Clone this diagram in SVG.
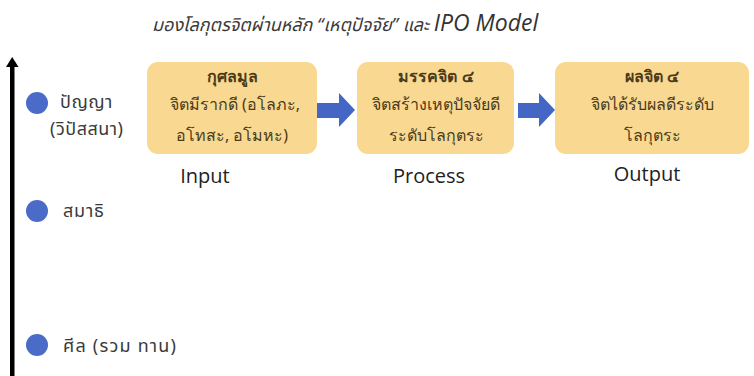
<svg xmlns="http://www.w3.org/2000/svg" width="754" height="376" viewBox="0 0 754 376">
  <defs>
    <style>
      .th { font-family: "Noto Sans", "Noto Sans Thai", "DejaVu Sans", sans-serif; fill: #3a3a3a; }
      .box { fill: #f9d891; }
      .boxt { font-family: "Noto Sans", "DejaVu Sans", sans-serif; font-size: 16px; fill: #4a3b1a; text-anchor: middle; }
      .lab { font-family: "Open Sans", "Noto Sans", "Liberation Sans", sans-serif; font-size: 20px; fill: #222; text-anchor: middle; }
      .dot { fill: #4a6bc8; }
      .arr { fill: #4466c4; }
    </style>
  </defs>
  <rect width="754" height="376" fill="#ffffff"/>

  <g id="title">
    <text x="152" y="31" class="th" font-style="italic" font-size="18">มองโลกุตรจิตผ่านหลัก “เหตุปัจจัย” และ <tspan font-family="Open Sans, Liberation Sans, sans-serif" font-size="23" fill="#333">IPO Model</tspan></text>
  </g>

  <g id="axis">
    <rect x="10" y="64" width="4.5" height="312" fill="#000"/>
    <polygon points="12.2,57 6,67 18.5,67" fill="#000"/>
  </g>

  <g id="level-panya">
    <circle cx="37" cy="103" r="11" class="dot"/>
    <text x="60" y="108" class="th" font-size="18" letter-spacing="0.5">ปัญญา</text>
    <text x="50" y="135" class="th" font-size="18" letter-spacing="0.5">(วิปัสสนา)</text>
  </g>
  <g id="level-samadhi">
    <circle cx="37" cy="211" r="11" class="dot"/>
    <text x="63" y="217" class="th" font-size="18" letter-spacing="0.8">สมาธิ</text>
  </g>
  <g id="level-sila">
    <circle cx="37" cy="345" r="11" class="dot"/>
    <text x="63" y="352" class="th" font-size="18" letter-spacing="1.2">ศีล (รวม ทาน)</text>
  </g>

  <g id="node-input">
    <rect x="147" y="62" width="170" height="92" rx="11" class="box"/>
    <text x="232" y="82" class="boxt" font-weight="bold">กุศลมูล</text>
    <text x="235" y="110" class="boxt">จิตมีรากดี (อโลภะ,</text>
    <text x="232" y="141" class="boxt">อโทสะ, อโมหะ)</text>
    <text x="205" y="183" class="lab">Input</text>
  </g>

  <g id="node-process">
    <rect x="357" y="62" width="157" height="92" rx="11" class="box"/>
    <text x="436" y="82" class="boxt" font-weight="bold">มรรคจิต ๔</text>
    <text x="436" y="110" class="boxt">จิตสร้างเหตุปัจจัยดี</text>
    <text x="436" y="141" class="boxt">ระดับโลกุตระ</text>
    <text x="429" y="183" class="lab">Process</text>
  </g>

  <g id="node-output">
    <rect x="555" y="62" width="194" height="92" rx="11" class="box"/>
    <text x="652" y="82" class="boxt" font-weight="bold">ผลจิต ๔</text>
    <text x="652" y="110" class="boxt">จิตได้รับผลดีระดับ</text>
    <text x="652" y="141" class="boxt">โลกุตระ</text>
    <text x="647" y="181" class="lab">Output</text>
  </g>

  <g id="connectors">
    <polygon class="arr" points="317,103 339,103 339,93 355,110 339,127 339,118 317,118"/>
    <polygon class="arr" points="518,103 539,103 539,93 555,110 539,127 539,118 518,118"/>
  </g>
</svg>
